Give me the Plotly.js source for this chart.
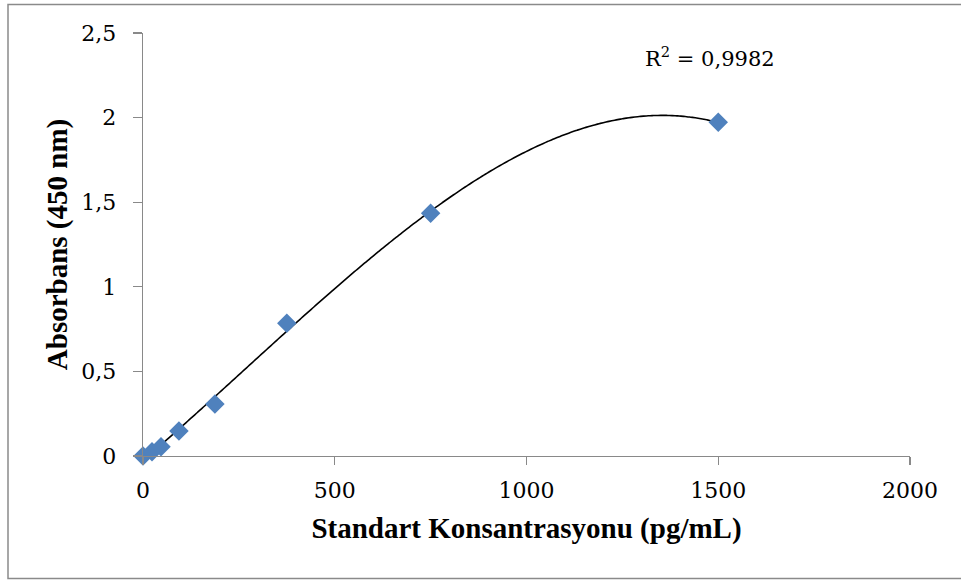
<!DOCTYPE html>
<html>
<head>
<meta charset="utf-8">
<script src="https://cdn.plot.ly/plotly-3.0.1.min.js"></script>
<style>
html,body{margin:0;padding:0;background:#fff;}
#chart{width:961px;height:581px;}
</style>
</head>
<body>
<div id="chart"></div>
<script>
// Data
var concentrations = [0, 23.44, 46.88, 93.75, 187.5, 375, 750, 1500];
var absorbance = [0.0, 0.025, 0.055, 0.148, 0.307, 0.785, 1.435, 1.972];
var xTickValues = [0, 500, 1000, 1500, 2000];
var xTickLabels = ['0', '500', '1000', '1500', '2000'];
var yTickValues = [0, 0.5, 1, 1.5, 2, 2.5];
var yTickLabels = ['0', '0,5', '1', '1,5', '2', '2,5'];
var r2Label = 'R<sup>2</sup> = 0,9982';
var xTitle = 'Standart Konsantrasyonu (pg/mL)';
var yTitle = 'Absorbans (450 nm)';

// Cubic polynomial least-squares trendline (like Excel's order-3 trendline)
function polyfit(xs, ys, order) {
  var n = order + 1, A = [], b = [];
  for (var i = 0; i < n; i++) {
    A.push(new Array(n).fill(0)); b.push(0);
  }
  for (var k = 0; k < xs.length; k++) {
    for (var i = 0; i < n; i++) {
      for (var j = 0; j < n; j++) A[i][j] += Math.pow(xs[k], i + j);
      b[i] += ys[k] * Math.pow(xs[k], i);
    }
  }
  for (var c = 0; c < n; c++) {
    var p = c;
    for (var r = c + 1; r < n; r++) if (Math.abs(A[r][c]) > Math.abs(A[p][c])) p = r;
    var t = A[c]; A[c] = A[p]; A[p] = t; var tb = b[c]; b[c] = b[p]; b[p] = tb;
    for (var r = c + 1; r < n; r++) {
      var f = A[r][c] / A[c][c];
      for (var j = c; j < n; j++) A[r][j] -= f * A[c][j];
      b[r] -= f * b[c];
    }
  }
  var coef = new Array(n).fill(0);
  for (var i = n - 1; i >= 0; i--) {
    var s = b[i];
    for (var j = i + 1; j < n; j++) s -= A[i][j] * coef[j];
    coef[i] = s / A[i][i];
  }
  return coef;
}
var coef = polyfit(concentrations, absorbance, 3);
var xMin = Math.min.apply(null, concentrations), xMax = Math.max.apply(null, concentrations);
var fitX = [], fitY = [];
for (var i = 0; i <= 200; i++) {
  var xv = xMin + (xMax - xMin) * i / 200;
  fitX.push(xv);
  fitY.push(coef[0] + coef[1] * xv + coef[2] * xv * xv + coef[3] * xv * xv * xv);
}

var traces = [
  {
    x: fitX, y: fitY, type: 'scatter', mode: 'lines',
    line: {color: '#000000', width: 1.6, shape: 'spline'},
    hoverinfo: 'skip', showlegend: false
  },
  {
    x: concentrations, y: absorbance, type: 'scatter', mode: 'markers',
    marker: {symbol: 'diamond', size: 15, color: '#4F81BD', line: {width: 0}},
    showlegend: false, cliponaxis: false
  }
];

var axisColor = '#898989';
var tickFont = {family: 'DejaVu Serif', size: 22, color: '#000'};
var titleFont = {family: 'Liberation Serif', size: 29, color: '#000', weight: 'bold'};

var layout = {
  width: 961, height: 581,
  margin: {l: 143, r: 51, t: 33, b: 125},
  paper_bgcolor: '#ffffff', plot_bgcolor: '#ffffff',
  showlegend: false,
  xaxis: {
    range: [0, 2000], tickvals: xTickValues, ticktext: xTickLabels,
    showgrid: false, zeroline: false, showline: true, linecolor: axisColor, linewidth: 1.3,
    ticks: 'outside', ticklen: 8, tickcolor: axisColor, tickwidth: 1.3,
    tickfont: tickFont, ticklabelstandoff: 6,
    title: {text: '<b>' + xTitle + '</b>', font: titleFont, standoff: 16}
  },
  yaxis: {
    range: [0, 2.5], tickvals: yTickValues, ticktext: yTickLabels,
    showgrid: false, zeroline: false, showline: true, linecolor: axisColor, linewidth: 1.3,
    ticks: 'outside', ticklen: 9, tickcolor: axisColor, tickwidth: 1.3,
    tickfont: tickFont, ticklabelstandoff: 12,
    title: {text: '<b>' + yTitle + '</b>', font: titleFont, standoff: 5}
  },
  annotations: [{
    x: 1479, y: 2.36, xref: 'x', yref: 'y', text: r2Label, showarrow: false,
    font: {family: 'DejaVu Serif', size: 21, color: '#000'}
  }],
  shapes: [{
    type: 'rect', xref: 'paper', yref: 'paper',
    x0: (8 - 143) / 767, x1: (975 - 143) / 767,
    y0: (456 - 578.5) / 423, y1: (456 - 4.5) / 423,
    line: {color: '#8a8a8a', width: 1.5}, fillcolor: 'rgba(0,0,0,0)', layer: 'below'
  }]
};

Plotly.newPlot('chart', traces, layout, {displayModeBar: false, staticPlot: true});
</script>
</body>
</html>
